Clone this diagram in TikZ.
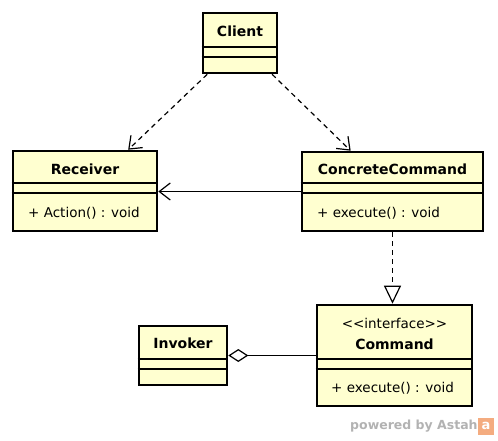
\documentclass[tikz,border=0pt]{standalone}
\usepackage{fontspec}
\setmainfont{DejaVu Sans}
\usetikzlibrary{arrows.meta}

\definecolor{classfill}{RGB}{255,255,208}
\definecolor{astah}{RGB}{244,172,128}

\begin{document}
\begin{tikzpicture}[x=1pt,y=-1pt,
  cls/.style={draw,line width=2.6pt,fill=classfill,inner sep=0pt},
  title/.style={font=\fontsize{14}{16}\selectfont\bfseries,inner sep=0pt},
  member/.style={font=\fontsize{13.5}{16}\selectfont,inner sep=0pt},
  sep/.style={line width=1.3pt},
  dep/.style={line width=1.2pt,dash pattern=on 5pt off 4pt},
  >={Straight Barb[length=11pt,width=17pt]}]
  \useasboundingbox (0,0) rectangle (498,440);
  % classes
  \node[cls,minimum width=74,minimum height=60] (client) at (240,43) {};
  \node[cls,minimum width=144,minimum height=80] (receiver) at (85,191) {};
  \node[cls,minimum width=181,minimum height=79] (concrete) at (392.5,191.5) {};
  \node[cls,minimum width=155,minimum height=101] (command) at (394.5,355.5) {};
  \node[cls,minimum width=88,minimum height=59] (invoker) at (183,355.5) {};
  % compartments
  \draw[sep] (client.west |- 0,47) -- (client.east |- 0,47);
  \draw[sep] (client.west |- 0,57) -- (client.east |- 0,57);
  \draw[sep] (receiver.west |- 0,183) -- (receiver.east |- 0,183);
  \draw[sep] (receiver.west |- 0,193) -- (receiver.east |- 0,193);
  \draw[sep] (concrete.west |- 0,183) -- (concrete.east |- 0,183);
  \draw[sep] (concrete.west |- 0,193) -- (concrete.east |- 0,193);
  \draw[sep] (command.west |- 0,359) -- (command.east |- 0,359);
  \draw[sep] (command.west |- 0,369) -- (command.east |- 0,369);
  \draw[sep] (invoker.west |- 0,359) -- (invoker.east |- 0,359);
  \draw[sep] (invoker.west |- 0,369) -- (invoker.east |- 0,369);
  % names and operations
  \node[title] (clientname) at (240,31) {Client};
  \node[title] (receivername) at (85,169) {Receiver};
  \node[member,anchor=west] (action) at (28,213) {+ Action() : void};
  \node[title] (concretename) at (392.5,169) {ConcreteCommand};
  \node[member,anchor=west] (ccexec) at (317,213) {+ execute() : void};
  \node[member] (stereo) at (394.5,323) {{<}{<}interface{>}{>}};
  \node[title] (commandname) at (394.5,344) {Command};
  \node[member,anchor=west] (cmdexec) at (331,388) {+ execute() : void};
  \node[title] (invokername) at (183,343) {Invoker};
  % relations
  \draw[dep,->] (client) -- (receiver);
  \draw[dep,->] (client) -- (concrete);
  \draw[line width=1.2pt,->] (concrete.west) -- (concrete.west -| receiver.east);
  \draw[dep,-{Triangle[open,length=18pt,width=17pt]}] (concrete.south) -- (concrete.south |- command.north);
  \draw[line width=1.2pt,-{Diamond[open,length=20pt,width=13pt]}] (command.west) -- (command.west -| invoker.east);
  % watermark
  \node[fill=astah,minimum width=16,minimum height=17,inner sep=0pt,text=white,
    font=\fontsize{13}{14}\selectfont\bfseries] (logo) at (486,426) {a};
  \node[font=\fontsize{12.5}{14}\selectfont\bfseries,text=black!30,anchor=east,inner sep=0pt]
    (mark) at (logo.west) {powered by Astah};
\end{tikzpicture}
\end{document}
